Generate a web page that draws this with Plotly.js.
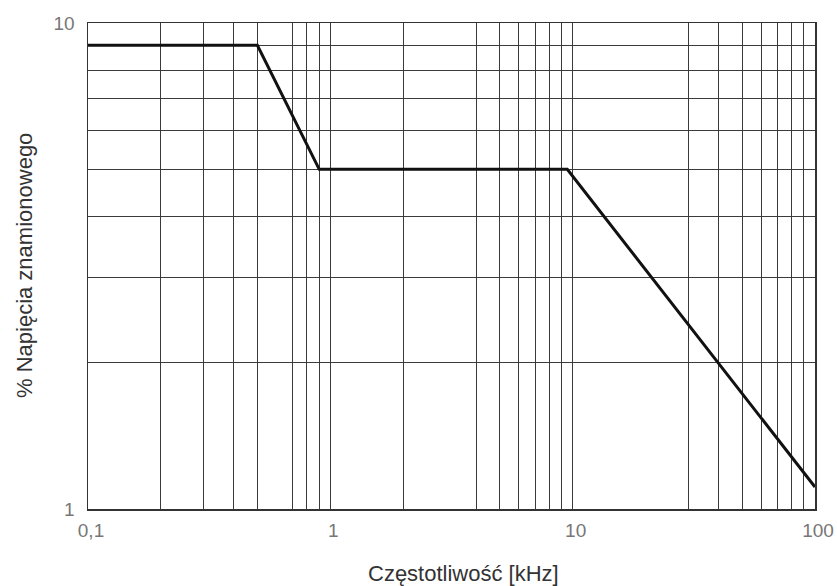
<!DOCTYPE html>
<html>
<head>
<meta charset="utf-8">
<script src="https://cdn.plot.ly/plotly-3.0.1.min.js"></script>
<style>html,body{margin:0;padding:0;background:#fff;}#chart{width:837px;height:586px;}</style>
</head>
<body>
<div id="chart"></div>
<script>
// Curve breakpoints (frequency in kHz, % of rated voltage)
const freqKHz = [0.1, 0.5, 0.9, 9.5, 100];
const voltagePct = [9, 9, 5, 5, 1.11];

// Gridline positions and labels as drawn on the original
const xGridVals = [0.1, 0.2, 0.3, 0.4, 0.5, 0.7, 0.8, 0.9, 1, 2, 4, 5, 6, 7, 8, 9, 10, 30, 40, 50, 60, 70, 80, 90, 100];
const xGridText = ['0,1', '', '', '', '', '', '', '', '1', '', '', '', '', '', '', '', '10', '', '', '', '', '', '', '', '100'];
const yGridVals = [1, 2, 3, 4, 5, 6, 7, 8, 9, 10];
const yGridText = ['1', '', '', '', '', '', '', '', '', '10'];

const xTitle = 'Częstotliwość [kHz]';
const yTitle = '% Napięcia znamionowego';

const trace = {
  x: freqKHz,
  y: voltagePct,
  type: 'scatter',
  mode: 'lines',
  line: {color: '#111', width: 3},
  hoverinfo: 'skip'
};

const tickFont = {family: 'Liberation Sans, Arial, sans-serif', size: 19, color: '#777'};
const titleFont = {family: 'Liberation Sans, Arial, sans-serif', size: 22, color: '#333'};

const layout = {
  width: 837,
  height: 586,
  margin: {l: 88, r: 22, t: 23, b: 77},
  paper_bgcolor: '#fff',
  plot_bgcolor: '#fff',
  showlegend: false,
  font: {family: 'Liberation Sans, Arial, sans-serif', color: '#333'},
  xaxis: {
    type: 'log',
    range: [-1, 2],
    tickmode: 'array',
    tickvals: xGridVals,
    ticktext: xGridText,
    showgrid: true,
    gridcolor: '#3a3a3a',
    gridwidth: 1,
    ticks: '',
    ticklabelstandoff: 4,
    ticklabelshift: 3,
    showline: true,
    linecolor: '#333',
    linewidth: 1.5,
    mirror: true,
    zeroline: false,
    tickfont: tickFont
  },
  yaxis: {
    type: 'log',
    range: [0, 1],
    tickmode: 'array',
    tickvals: yGridVals,
    ticktext: yGridText,
    showgrid: true,
    gridcolor: '#3a3a3a',
    gridwidth: 1,
    ticks: '',
    ticklabelstandoff: 8,
    showline: true,
    linecolor: '#333',
    linewidth: 1.5,
    mirror: true,
    zeroline: false,
    tickfont: tickFont
  },
  annotations: [
    {text: xTitle, xref: 'paper', yref: 'paper', x: 0.516, y: -0.132,
     xanchor: 'center', yanchor: 'middle', showarrow: false, font: titleFont},
    {text: yTitle, xref: 'paper', yref: 'paper', x: -0.088, y: 0.5, textangle: -90,
     xanchor: 'center', yanchor: 'middle', showarrow: false, font: titleFont}
  ]
};

Plotly.newPlot('chart', [trace], layout, {displayModeBar: false, staticPlot: true});
</script>
</body>
</html>
